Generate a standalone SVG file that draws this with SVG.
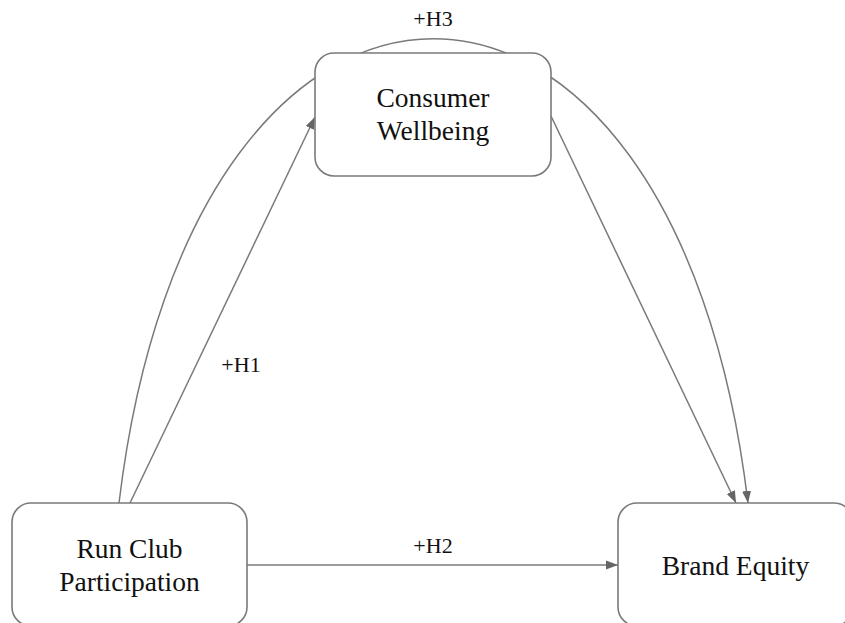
<svg xmlns="http://www.w3.org/2000/svg" width="845" height="623" viewBox="0 0 845 623">
  <style>
    .node rect { fill: #ffffff; stroke: #7a7a7a; stroke-width: 1.6; }
    .node text { font-family: "Liberation Serif", "Times New Roman", serif; font-size: 27.5px; fill: #111111; text-anchor: middle; }
    .edge { fill: none; stroke: #7a7a7a; stroke-width: 1.5; }
    .lbl { font-family: "Liberation Serif", "Times New Roman", serif; font-size: 22px; fill: #111111; text-anchor: middle; }
  </style>
  <defs>
    <marker id="arr" markerUnits="userSpaceOnUse" markerWidth="12" markerHeight="12" viewBox="0 0 12 12" refX="12" refY="6" orient="auto">
      <path d="M0,1.5 L12,6 L0,10.5 Z" fill="#666666"/>
    </marker>
  </defs>
  <rect width="845" height="623" fill="#ffffff"/>
  <g id="connectors">
    <path class="edge" d="M119,503 C193,-116 674,-116 748,503" marker-end="url(#arr)"/>
    <path class="edge" d="M130,503 L315,117" marker-end="url(#arr)"/>
    <path class="edge" d="M551,116 L736,503" marker-end="url(#arr)"/>
    <path class="edge" d="M247,565 L618,565" marker-end="url(#arr)"/>
    <text class="lbl" x="433" y="26">+H3</text>
    <text class="lbl" x="241" y="372">+H1</text>
    <text class="lbl" x="433" y="553">+H2</text>
  </g>
  <g id="consumer-wellbeing" class="node">
    <rect x="315" y="53" width="236" height="123" rx="19" ry="19"/>
    <text x="433" y="107">Consumer</text>
    <text x="433" y="140">Wellbeing</text>
  </g>
  <g id="run-club-participation" class="node">
    <rect x="12" y="503" width="235" height="123" rx="19" ry="19"/>
    <text x="129.5" y="558">Run Club</text>
    <text x="129.5" y="591">Participation</text>
  </g>
  <g id="brand-equity" class="node">
    <rect x="618" y="503" width="235" height="123" rx="19" ry="19"/>
    <text x="735.5" y="575">Brand Equity</text>
  </g>
</svg>
